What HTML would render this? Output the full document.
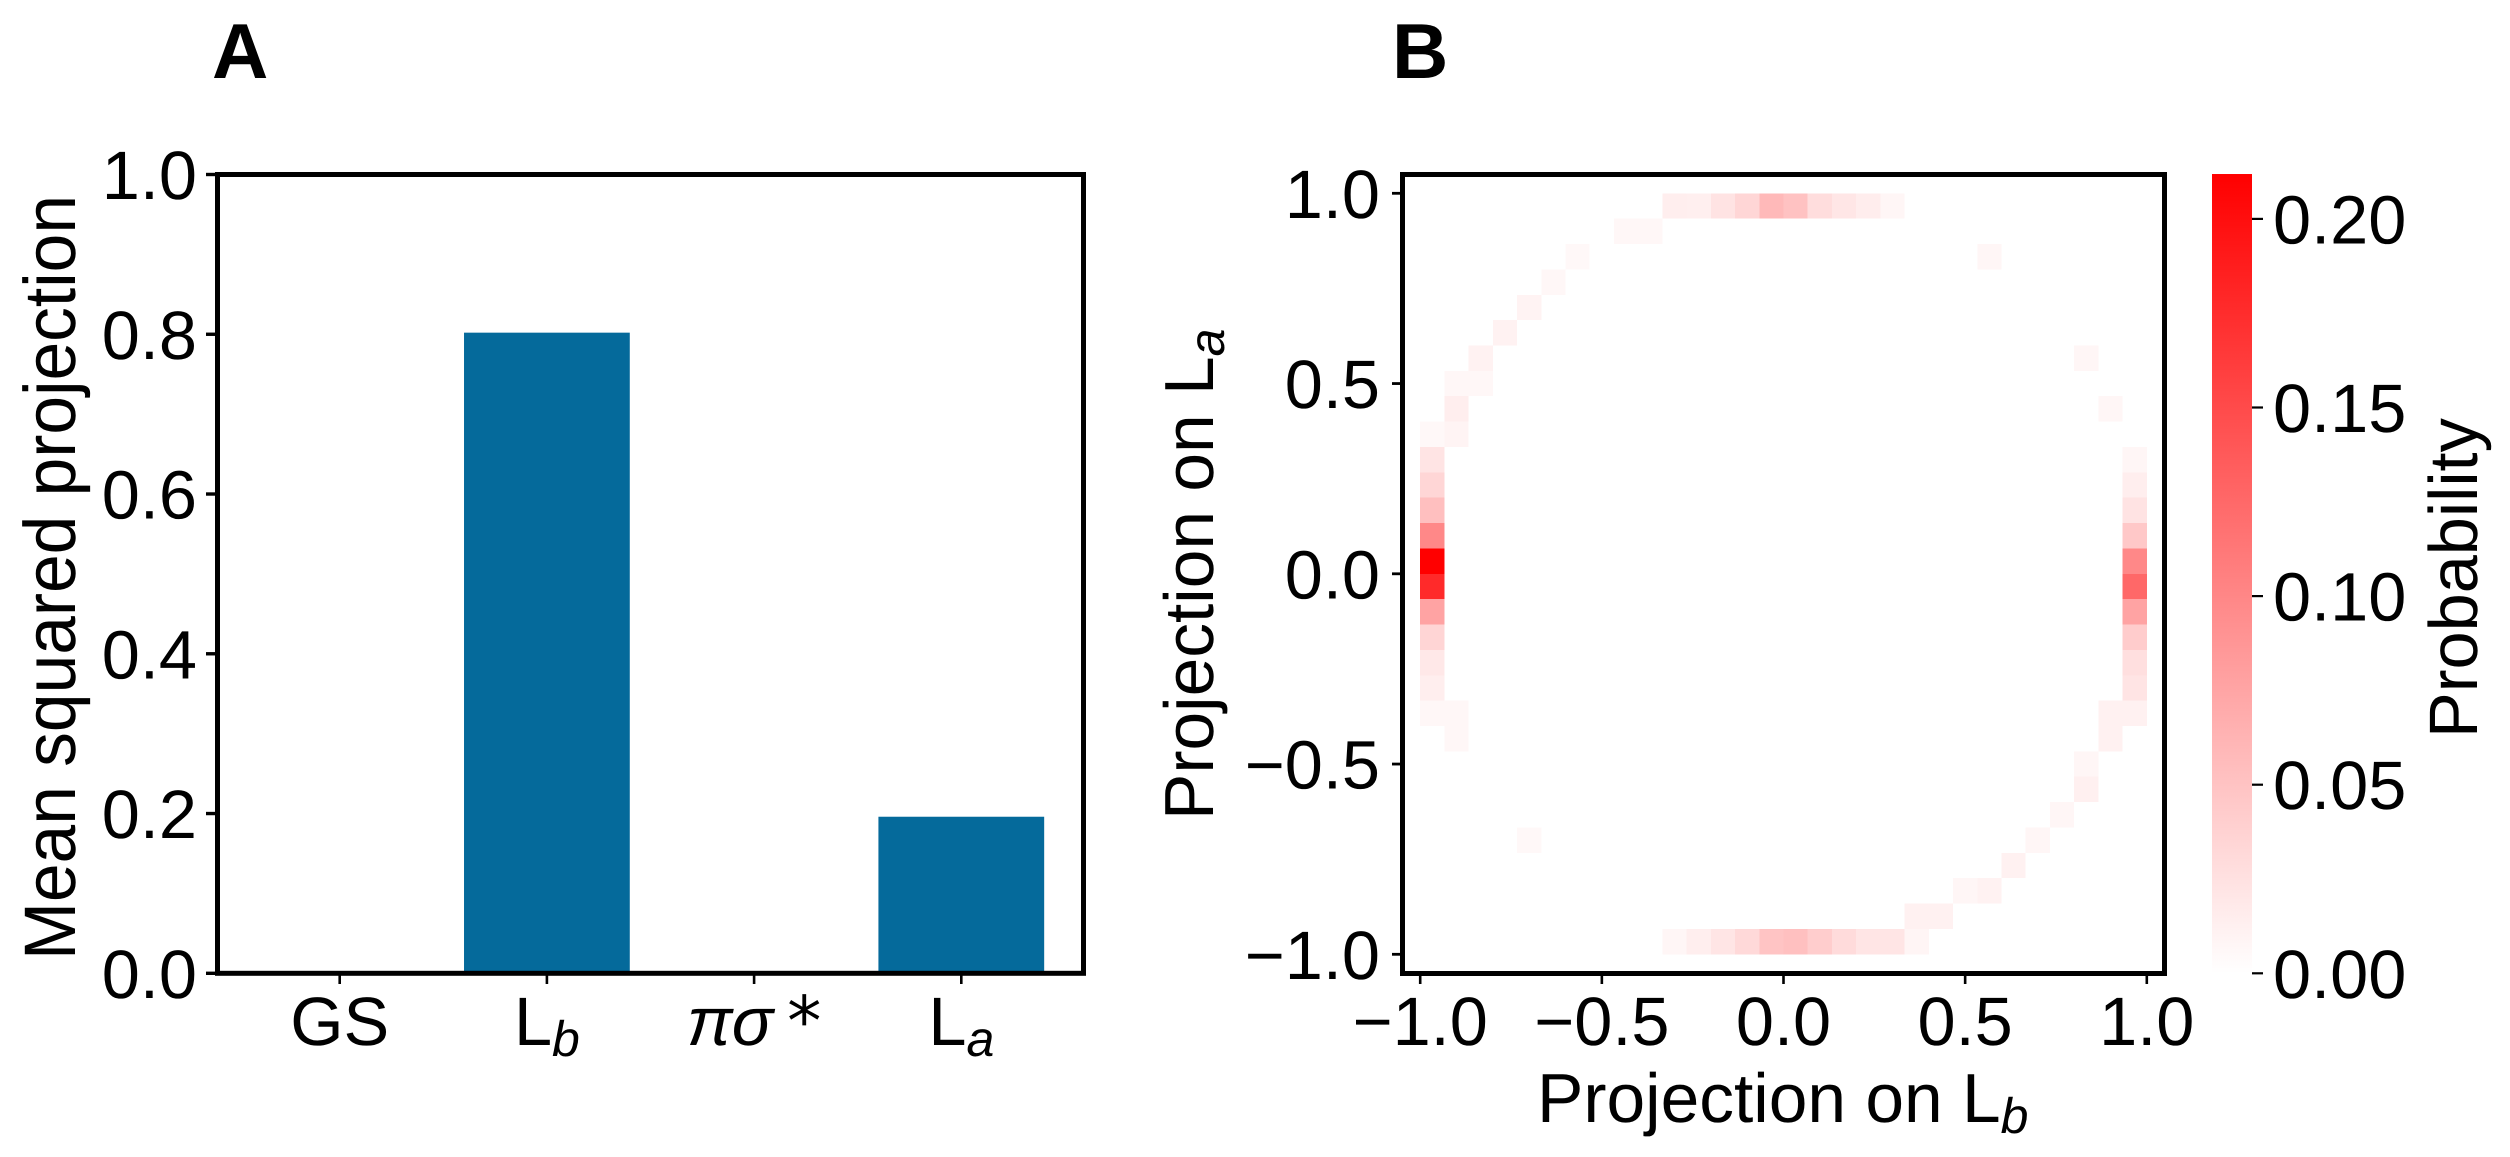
<!DOCTYPE html>
<html lang="en">
<head>
<meta charset="utf-8">
<title>Mean squared projection and projection probability</title>
<style>
html,body{margin:0;padding:0;background:#fff;width:2510px;height:1157px;overflow:hidden}
svg{display:block}
text{font-family:"Liberation Sans",sans-serif;font-size:68.5px;fill:#000;text-rendering:geometricPrecision}
.panel{font-weight:bold;font-size:78px}
.sub{font-size:50px;font-style:italic}
.title{font-size:69.5px}
</style>
</head>
<body>
<svg id="figure" xmlns="http://www.w3.org/2000/svg" width="2510" height="1157" viewBox="0 0 2510 1157">
  <defs>
    <linearGradient id="cbar-gradient" x1="0" y1="1" x2="0" y2="0">
      <stop offset="0" stop-color="#ffffff"/>
      <stop offset="1" stop-color="#ff0000"/>
    </linearGradient>
  </defs>
  <text class="panel" x="212" y="78">A</text>
  <text class="panel" x="1392" y="78">B</text>

  <g id="panel-a"></g>
  <g id="panel-b"></g>
  <g id="panel-c"></g>

  <text class="title" transform="translate(75,960) rotate(-90) scale(1,1.05)">Mean squared projection</text>
  <text class="title" transform="translate(1213,820) rotate(-90)">Projection on L<tspan class="sub" dy="11">a</tspan></text>
  <text class="title" x="1537" y="1122">Projection on L<tspan class="sub" dy="11">b</tspan></text>
  <text transform="translate(2477,738) rotate(-90)">Probability</text>
</svg>
<script>
const categories = ['GS', 'Lb', 'πσ*', 'La'];
const meanSquaredProjection = [0.001, 0.802, 0.001, 0.196];
const yTicksA = [0, 0.2, 0.4, 0.6, 0.8, 1];
const yTickLabelsA = ['0.0', '0.2', '0.4', '0.6', '0.8', '1.0'];

const binCount = 30;
const heatRowBins = [
  0,0,0,0,0,0,0,0,0,0,
  1,1, 2,2, 3, 4, 5, 6,6, 7,7, 8,8, 9,9,
  10,10, 11,11, 12,12, 13,13, 14,14, 15,15, 16,16, 17,17, 18,18, 19,19,
  20,20,20,20, 21,21, 22, 23, 24, 25,25, 26, 27,27, 28,28,
  29,29,29,29,29,29,29,29,29,29,29
];
const heatColBins = [
  10,11,12,13,14,15,16,17,18,19,
  8,9, 6,23, 5, 4, 3, 2,27, 1,2, 1,28, 0,1,
  0,29, 0,29, 0,29, 0,29, 0,29, 0,29, 0,29, 0,29, 0,29, 0,29,
  0,1,28,29, 1,28, 27, 27, 26, 25,4, 24, 22,23, 20,21,
  10,11,12,13,14,15,16,17,18,19,20
];
const heatProbabilities = [
  .0141,.0133,.0233,.0341,.0582,.0507,.0283,.0208,.0150,.0075,
  .0066,.0066, .0058,.0075, .0066, .0100, .0108, .0108,.0075, .0066,.0066, .0141,.0075, .0058,.0091,
  .0224,.0075, .0341,.0141, .0532,.0233, .0989,.0457, .2119,.0989, .1770,.1255, .0765,.0765, .0349,.0424, .0191,.0266, .0141,.0224,
  .0066,.0066,.0116,.0116, .0066,.0116, .0075, .0125, .0075, .0075,.0058, .0116, .0075,.0108, .0116,.0116,
  .0075,.0141,.0216,.0316,.0490,.0524,.0416,.0299,.0216,.0216,.0083
];
const xTicksB = [-1, -0.5, 0, 0.5, 1];
const yTicksB = [-1, -0.5, 0, 0.5, 1];
const tickLabelsB = ['−1.0', '−0.5', '0.0', '0.5', '1.0'];

const colorbarMax = 0.2119;
const colorbarTicks = [0, 0.05, 0.10, 0.15, 0.20];
const colorbarTickLabels = ['0.00', '0.05', '0.10', '0.15', '0.20'];

const NS = 'http://www.w3.org/2000/svg';
const plotA = { left: 217.5, right: 1083.5, top: 174.5, bottom: 973.3 };
const plotB = { left: 1402.5, right: 2164.5, top: 174.5, bottom: 973.5 };

const xA = i => 339.7 + 207.2 * i;
const yA = v => 973.3 - 798.8 * v;
const xB = v => 1783.5 + 363.3 * v;
const yB = v => 573.8 - 380.5 * v;
const yC = v => 973.3 - 3772 * v;
const heatColor = v => {
  const g = Math.round(255 * (1 - Math.min(v / colorbarMax, 1)));
  return 'rgb(255,' + g + ',' + g + ')';
};

function add(parent, tag, attrs) {
  const el = document.createElementNS(NS, tag);
  for (const k in attrs) el.setAttribute(k, attrs[k]);
  parent.appendChild(el);
  return el;
}

const gA = document.getElementById('panel-a');
const gB = document.getElementById('panel-b');
const gC = document.getElementById('panel-c');

/* Panel A bars */
meanSquaredProjection.forEach((v, i) => {
  const bar = add(gA, 'rect', { x: xA(i - 0.4), y: yA(v), width: xA(i + 0.4) - xA(i - 0.4), height: yA(0) - yA(v), fill: '#056a9b' });
  
  
});

const spineA = add(gA, 'rect', { x: plotA.left, y: plotA.top, width: plotA.right - plotA.left, height: plotA.bottom - plotA.top, fill: 'none', stroke: '#000', 'stroke-width': 5 });



yTicksA.forEach((v, i) => {
  const tick = add(gA, 'line', { x1: 206, x2: plotA.left, y1: yA(v), y2: yA(v), stroke: '#000', 'stroke-width': 3.4 });
  
  
  const label = add(gA, 'text', { x: 197, y: yA(v) + 24.5, 'text-anchor': 'end' });
  label.textContent = yTickLabelsA[i];
  
  
});

categories.forEach((name, i) => {
  const tick = add(gA, 'line', { x1: xA(i), x2: xA(i), y1: plotA.bottom, y2: 984, stroke: '#000', 'stroke-width': 2.6 });
  
  
  const label = add(gA, 'text', { x: xA(i), y: 1045, 'text-anchor': 'middle' });
  
  
  if (name === 'πσ*') {
    const greek = add(label, 'tspan', { 'font-style': 'italic' });
    greek.textContent = 'πσ';
    const star = add(label, 'tspan', { dx: 14, style: 'font-family:"DejaVu Sans",sans-serif' });
    star.textContent = '*';
  } else if (name.length === 2 && name[0] === 'L') {
    const base = add(label, 'tspan', {});
    base.textContent = 'L';
    const sub = add(label, 'tspan', { class: 'sub', dy: 11 });
    sub.textContent = name[1];
  } else {
    label.textContent = name;
  }
});

/* Panel B heatmap */
const binWidth = 2 / binCount;
heatProbabilities.forEach((p, n) => {
  const col = heatColBins[n];
  const row = heatRowBins[n];
  const x0 = xB(-1 + col * binWidth);
  const x1 = xB(-1 + (col + 1) * binWidth);
  const y0 = yB(1 - row * binWidth);
  const y1 = yB(1 - (row + 1) * binWidth);
  const cell = add(gB, 'rect', { x: x0, y: y0, width: x1 - x0, height: y1 - y0, fill: heatColor(p), 'shape-rendering': 'crispEdges' });
  
  
});

const spineB = add(gB, 'rect', { x: plotB.left, y: plotB.top, width: plotB.right - plotB.left, height: plotB.bottom - plotB.top, fill: 'none', stroke: '#000', 'stroke-width': 5 });



xTicksB.forEach((v, i) => {
  const tick = add(gB, 'line', { x1: xB(v), x2: xB(v), y1: plotB.bottom, y2: 984, stroke: '#000', 'stroke-width': 2.6 });
  
  
  const label = add(gB, 'text', { x: xB(v), y: 1045, 'text-anchor': 'middle' });
  label.textContent = tickLabelsB[i];
  
  
});

yTicksB.forEach((v, i) => {
  const tick = add(gB, 'line', { x1: 1392, x2: plotB.left, y1: yB(v), y2: yB(v), stroke: '#000', 'stroke-width': 2.8 });
  
  
  const label = add(gB, 'text', { x: 1380, y: yB(v) + 24.5, 'text-anchor': 'end' });
  label.textContent = tickLabelsB[i];
  
  
});

/* Colorbar */
const cbarBody = add(gC, 'rect', { x: 2212, y: yC(colorbarMax), width: 40, height: yC(0) - yC(colorbarMax), fill: 'url(#cbar-gradient)' });



colorbarTicks.forEach((v, i) => {
  const tick = add(gC, 'line', { x1: 2252, x2: 2263, y1: yC(v), y2: yC(v), stroke: '#000', 'stroke-width': 2.2 });
  
  
  const label = add(gC, 'text', { x: 2273, y: yC(v) + 24.5 });
  label.textContent = colorbarTickLabels[i];
  
  
});
</script>
</body>
</html>
